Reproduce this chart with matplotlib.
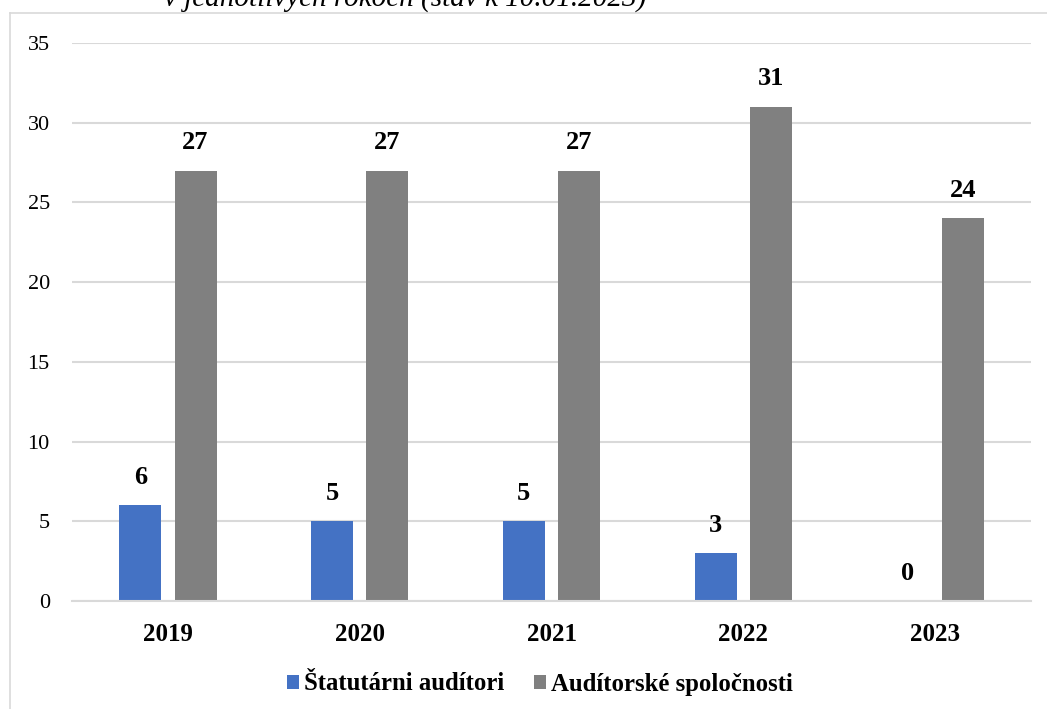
import matplotlib.pyplot as plt
import numpy as np
from matplotlib.lines import Line2D

# --- data ---
years = ['2019', '2020', '2021', '2022', '2023']
statutarni = [6, 5, 5, 3, 0]
spolocnosti = [27, 27, 27, 31, 24]
series_names = ['Štatutárni audítori', 'Audítorské spoločnosti']
y_ticks = [0, 5, 10, 15, 20, 25, 30, 35]
subtitle = 'v jednotlivých rokoch (stav k 10.01.2023)'

blue = '#4472C4'
gray = '#808080'
grid_col = '#D9D9D9'

plt.rcParams['font.family'] = ['Liberation Serif', 'DejaVu Serif']

fig = plt.figure(figsize=(10.47, 7.09), dpi=100)
ax = fig.add_axes([72 / 1047, 1 - 601 / 709, (1031 - 72) / 1047, (601 - 43) / 709])

x = np.arange(len(years))
w = 0.219
off = 0.144
b1 = ax.bar(x - off, statutarni, w, color=blue, label=series_names[0])
b2 = ax.bar(x + off, spolocnosti, w, color=gray, label=series_names[1])

# value labels above the bars
for bars, vals in [(b1, statutarni), (b2, spolocnosti)]:
    for rect, v in zip(bars, vals):
        ax.annotate(str(v), (rect.get_x() + rect.get_width() / 2, v),
                    xytext=(0, 20), textcoords='offset points',
                    ha='center', va='center', fontsize=19, fontweight='bold')

ax.set_xlim(-0.5, len(years) - 0.5)
ax.set_ylim(0, 35)
ax.set_yticks(y_ticks)
ax.set_xticks(x)
ax.set_xticklabels(years, fontsize=18, fontweight='bold')
ax.tick_params(axis='y', labelsize=16, length=0, pad=16)
ax.tick_params(axis='x', length=0, pad=16)
ax.yaxis.grid(True, color=grid_col, linewidth=1.5)
ax.set_axisbelow(True)
for s in ['top', 'right', 'left']:
    ax.spines[s].set_visible(False)
ax.spines['bottom'].set_color(grid_col)
ax.spines['bottom'].set_linewidth(1.5)

fig.legend(loc='center', bbox_to_anchor=(540 / 1047, 1 - 684 / 709), ncol=2,
           frameon=False, prop={'size': 17.8, 'weight': 'bold'},
           handlelength=0.5, handleheight=0.5, handletextpad=0.2, columnspacing=1.2)

# outer frame of the chart (clipped by the image edge)
fig.add_artist(Line2D([10 / 1047, 1], [1 - 13 / 709, 1 - 13 / 709], color=grid_col, lw=1.2))
fig.add_artist(Line2D([10 / 1047, 10 / 1047], [0, 1 - 13 / 709], color=grid_col, lw=1.2))

# clipped subtitle at the very top (cut off in the reference too)
fig.text(405 / 1047, 1 - 6 / 709, subtitle, ha='center', va='baseline',
         fontsize=21, style='italic')

fig.savefig('out.png', dpi=100)
